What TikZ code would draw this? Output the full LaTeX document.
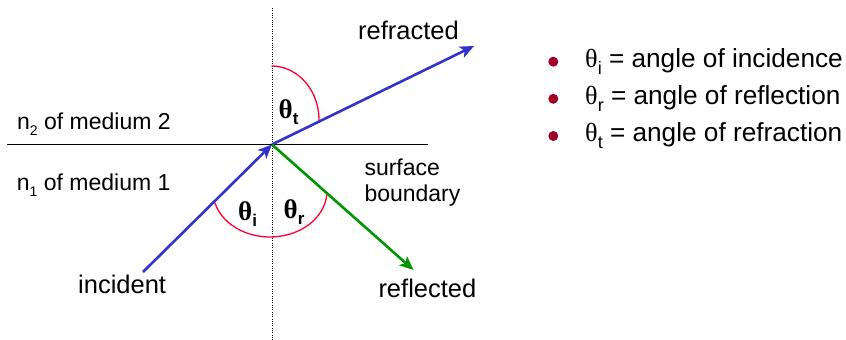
\documentclass[tikz,border=0pt]{standalone}
\usepackage{fontspec}
\setmainfont{Liberation Sans}
\newfontfamily\grk{Liberation Serif}
\usetikzlibrary{arrows.meta}
\definecolor{rayblue}{RGB}{51,51,204}
\definecolor{raygreen}{RGB}{0,150,0}
\definecolor{arcred}{RGB}{255,0,51}
\definecolor{bulletred}{RGB}{160,0,40}
\newcommand\lowsub[3]{\raisebox{-#2pt}{\fontsize{#1}{#1}\selectfont #3}}
\begin{document}
\begin{tikzpicture}[x=1pt,y=-1pt,
  raystyle/.style={line width=2.6pt,-{Stealth[length=14pt,width=12pt,inset=3.5pt]}},
  arcstyle/.style={draw=arcred,line width=1.3pt},
  lbl/.style={inner sep=0pt,anchor=base west,font=\fontsize{25.5}{30}\selectfont},
  medlbl/.style={inner sep=0pt,anchor=base west,font=\fontsize{23}{27}\selectfont},
  thlbl/.style={inner sep=0pt,anchor=base west,font=\fontsize{27}{30}\selectfont\bfseries},
  leg/.style={inner sep=0pt,anchor=base west,font=\fontsize{26.2}{30}\selectfont},
  bulletdot/.style={circle,fill=bulletred,minimum size=10pt,inner sep=0pt}]
\useasboundingbox (0,0) rectangle (846,340);
% geometry
\coordinate (O) at (272,144.5);
\coordinate (inc) at (143,272);
\coordinate (refr) at (474,46);
\coordinate (refl) at (413.5,270);
\coordinate (nt) at (272,8);
\coordinate (nb) at (272,340);
\coordinate (sl) at (7,144.5);
\coordinate (sr) at (428,144.5);
% normal and surface
\draw[line width=0.9pt,dash pattern=on 1pt off 1.3pt] (nt) -- (nb);
\draw[line width=1.4pt] (sl) -- (sr);
% angle arcs
\coordinate (tarc) at (271.5,66);
\coordinate (barc) at (214.8,202.5);
\draw[arcstyle] (tarc) arc[start angle=-90,end angle=3,x radius=47.5,y radius=54];
\draw[arcstyle] (barc) arc[start angle=165.5,end angle=3,x radius=57,y radius=46];
% rays
\draw[raystyle,rayblue] (inc) -- (O);
\draw[raystyle,rayblue] (O) -- (refr);
\draw[raystyle,raygreen] (O) -- (refl);
% labels
\node[lbl] (trefr) at (358,39) {refracted};
\node[lbl] (tinc) at (78,293.3) {incident};
\node[lbl] (trefl) at (378.3,297.7) {reflected};
\node[medlbl] (tn2) at (17,129.3) {n\lowsub{14}{6}{2} of medium 2};
\node[medlbl] (tn1) at (16.7,190.7) {n\lowsub{14}{6}{1} of medium 1};
\node[medlbl] (tsurf) at (364.3,175) {surface};
\node[medlbl] (tbound) at (364.3,201.7) {boundary};
\node[thlbl] (tht) at (278.5,118) {{\grk θ}\lowsub{17}{6}{t}};
\node[thlbl] (thi) at (238,220) {{\grk θ}\lowsub{17}{6}{i}};
\node[thlbl] (thr) at (283.5,218.3) {{\grk θ}\lowsub{17}{6}{r}};
% legend
\node[bulletdot] (b1) at (553.3,61.7) {};
\node[bulletdot] (b2) at (553.3,98.8) {};
\node[bulletdot] (b3) at (553.3,136) {};
\node[leg] (l1) at (585,67.3) {{\grk θ}\lowsub{18}{7}{i} = angle of incidence};
\node[leg] (l2) at (585,104.5) {{\grk θ}\lowsub{18}{7}{r} = angle of reflection};
\node[leg] (l3) at (585,141.7) {{\grk θ}\lowsub{18}{7}{t} = angle of refraction};
\end{tikzpicture}
\end{document}
